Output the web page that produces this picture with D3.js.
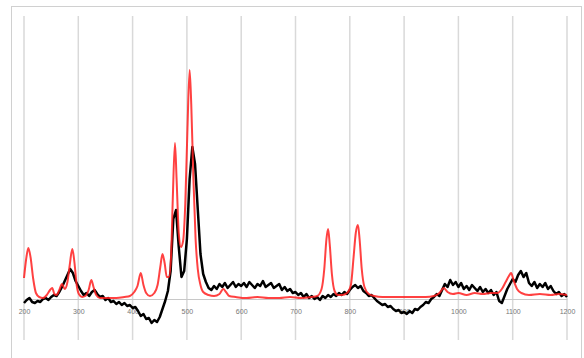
<!DOCTYPE html>
<html>
<head>
<meta charset="utf-8">
<script src="https://cdn.jsdelivr.net/npm/d3@7"></script>
<style>
  body { margin: 0; background: #fff; }
  svg { display: block; }
</style>
</head>
<body>
<div id="chart"></div>
<script>
// x ticks (wavenumber)
const xTicks = [200, 300, 400, 500, 600, 700, 800, 900, 1000, 1100, 1200];

// reference spectrum (red), [wavenumber, intensity]
const redSeries = [
  [200, 21], [204, 40], [208, 51], [212, 42], [217, 20], [222, 6], [228, 2], [235, 1],
  [242, 4], [248, 9], [252, 11], [256, 5], [260, 4], [265, 9], [270, 15], [275, 10],
  [280, 17], [284, 33], [289, 50], [293, 36], [297, 14], [301, 5], [307, 2], [313, 3],
  [319, 9], [324, 19], [328, 12], [333, 4], [340, 1], [355, 1], [370, 1], [385, 2],
  [395, 3], [403, 7], [409, 13], [415, 26], [420, 14], [425, 6], [432, 3], [440, 6],
  [446, 14], [451, 32], [455, 45], [459, 36], [463, 22], [467, 22], [471, 45], [474, 100],
  [478, 156], [481, 120], [485, 66], [489, 52], [493, 58], [497, 95], [501, 170], [505, 229],
  [508, 195], [512, 120], [516, 60], [520, 30], [525, 14], [530, 7], [540, 4], [550, 3],
  [560, 5], [567, 10], [572, 7], [578, 3], [590, 2], [610, 1], [630, 2], [650, 1],
  [670, 1], [690, 2], [710, 1], [730, 2], [740, 3], [748, 10], [753, 30], [757, 60],
  [760, 70], [763, 55], [767, 25], [772, 8], [778, 4], [786, 4], [795, 6], [802, 14],
  [807, 42], [811, 66], [815, 74], [818, 60], [822, 30], [827, 12], [835, 5], [845, 3],
  [860, 2], [880, 2], [900, 2], [920, 2], [940, 2], [955, 3], [965, 6], [973, 11],
  [980, 7], [990, 5], [1000, 6], [1015, 4], [1030, 6], [1045, 5], [1060, 6], [1072, 6],
  [1080, 10], [1087, 17], [1093, 23], [1097, 26], [1102, 18], [1108, 10], [1116, 6], [1130, 4],
  [1150, 5], [1170, 4], [1185, 5], [1200, 4]
];

// measured spectrum (black), one value every 5 cm-1 from 200 to 1200
const blackStart = 200;
const blackStep = 5;
const blackValues = [
  -4, -1, 1, -3, -4, -2, -3, 0, 1, -1, 2, 4, 3, 7, 12, 18, 24, 30, 26, 18,
  13, 8, 4, 6, 3, 7, 9, 5, 2, 3, -1, 1, -3, -2, -5, -3, -6, -4, -7, -6,
  -9, -8, -12, -17, -15, -20, -19, -24, -21, -23, -18, -10, -2, 8, 28, 80, 89, 52, 22, 28,
  60, 120, 152, 135, 90, 45, 25, 17, 11, 9, 13, 10, 15, 12, 16, 11, 14, 17, 12, 15,
  13, 16, 12, 17, 14, 11, 15, 13, 18, 12, 14, 16, 11, 13, 15, 9, 12, 8, 10, 6,
  7, 4, 6, 2, 5, 1, 3, 0, 2, -1, 3, 1, 4, 2, 5, 3, 6, 4, 7, 5,
  9, 12, 14, 11, 13, 8, 6, 3, 4, 1, -2, -4, -6, -5, -8, -7, -10, -12, -11, -14,
  -13, -15, -12, -14, -10, -11, -8, -6, -3, -4, 0, 2, 5, 3, 9, 15, 12, 19, 14, 17,
  12, 16, 10, 13, 9, 14, 11, 8, 12, 7, 10, 6, 9, 4, 7, -2, -4, 3, 10, 15,
  20, 17, 24, 28, 22, 26, 16, 13, 17, 11, 15, 12, 16, 10, 13, 8, 5, 7, 3, 5,
  2
];

const WIDTH = 584;
const HEIGHT = 358;

const svg = d3
  .select('#chart')
  .append('svg')
  .attr('width', WIDTH)
  .attr('height', HEIGHT);

// outer chart border
svg
  .append('rect')
  .attr('x', 11.5)
  .attr('y', 6.5)
  .attr('width', 570)
  .attr('height', 360)
  .attr('fill', '#fff')
  .attr('stroke', '#d0d0d0');

const plotTop = 16;
const plotBottom = 340;

const scaleX = d3.scaleLinear().domain([200, 1200]).range([24, 567]);
const scaleY = d3.scaleLinear().domain([-41, 283]).range([plotBottom, plotTop]);

// vertical gridlines
svg
  .append('g')
  .selectAll('line')
  .data(xTicks)
  .join('line')
  .attr('x1', (d) => scaleX(d))
  .attr('x2', (d) => scaleX(d))
  .attr('y1', plotTop)
  .attr('y2', plotBottom)
  .attr('stroke', '#d9d9d9')
  .attr('stroke-width', 1.5);

// x axis crossing at zero
const axisX = d3
  .axisBottom(scaleX)
  .tickValues(xTicks)
  .tickSize(0)
  .tickPadding(10)
  .tickFormat(d3.format('d'));

const gx = svg
  .append('g')
  .attr('transform', `translate(0,${scaleY(0)})`)
  .call(axisX);
gx.select('.domain').attr('stroke', '#c8c8c8').attr('stroke-width', 1);
gx.selectAll('text')
  .attr('fill', '#777')
  .style('font-family', 'Liberation Sans, Arial, sans-serif')
  .style('font-size', '7px');

// lines
const line = d3
  .line()
  .x((d) => scaleX(d[0]))
  .y((d) => scaleY(d[1]));

const blackSeries = blackValues.map((v, i) => [blackStart + i * blackStep, v]);

svg
  .append('path')
  .datum(blackSeries)
  .attr('fill', 'none')
  .attr('stroke', '#000')
  .attr('stroke-width', 2.5)
  .attr('stroke-linejoin', 'round')
  .attr('d', line);

svg
  .append('path')
  .datum(redSeries)
  .attr('fill', 'none')
  .attr('stroke', '#ff2020')
  .attr('stroke-opacity', 0.85)
  .attr('stroke-width', 2)
  .attr('stroke-linejoin', 'round')
  .attr('d', line.curve(d3.curveMonotoneX));
</script>
</body>
</html>
